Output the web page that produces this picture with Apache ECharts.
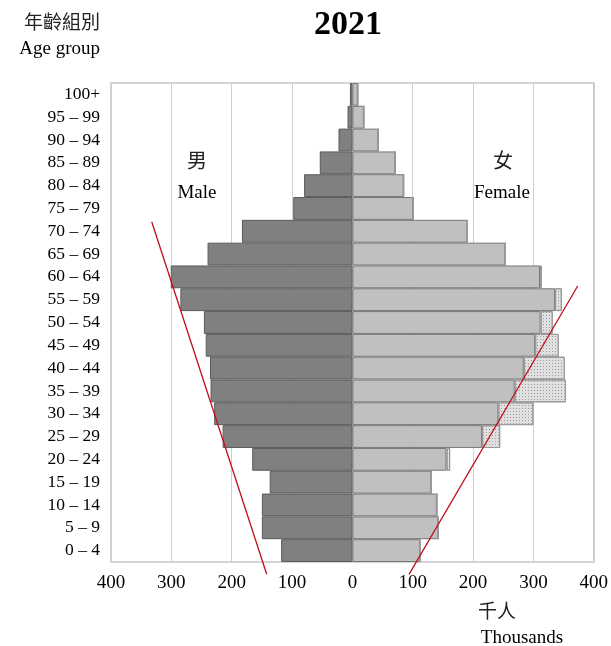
<!DOCTYPE html>
<html><head><meta charset="utf-8">
<script src="https://cdn.jsdelivr.net/npm/echarts@6/dist/echarts.min.js"></script>
<style>html,body{margin:0;padding:0;background:#fff}#c{width:611px;height:646px}</style>
</head><body><div id="c"></div>
<script>
const ageGroups = ['0 – 4','5 – 9','10 – 14','15 – 19','20 – 24','25 – 29','30 – 34','35 – 39','40 – 44','45 – 49','50 – 54','55 – 59','60 – 64','65 – 69','70 – 74','75 – 79','80 – 84','85 – 89','90 – 94','95 – 99','100+'];
const maleValues = [118,150,150,137,166,215,229,235,236,243,246,285,301,240,183,98,80,54,23,8,4];
const femaleSolid = [112,142,140,131,156,215,242,269,284,303,312,336,311,253,190,101,85,71,43,19,9];
const femaleTotal = [112,142,140,131,162,245,300,354,352,342,332,347,314,253,190,101,85,71,43,19,9];
const xTicks = [-400,-300,-200,-100,0,100,200,300,400];
// red annotation lines in [thousands, age-row index]
const leftLine = [[-332.7,14.42],[-142.6,-1.04]];
const rightLine = [[371.4,11.6],[92.6,-1.04]];

const serif = 'Liberation Serif';
const chart = echarts.init(document.getElementById('c'));
const gridRect = {left:111, top:83, width:484, height:479};
chart.setOption({
  animation:false,
  textStyle:{fontFamily:serif},
  grid:[Object.assign({show:true, borderColor:'#c8c8c8', borderWidth:1.5, containLabel:false}, gridRect),
        Object.assign({show:false}, gridRect)],
  xAxis:[{
    type:'value', gridIndex:0, min:xTicks[0], max:xTicks[xTicks.length-1], interval:100,
    axisLine:{show:false}, axisTick:{show:false},
    splitLine:{show:true, lineStyle:{color:'#cfcfcf', width:1}},
    axisLabel:{formatter:v=>Math.abs(v), color:'#000', fontSize:19, fontFamily:serif, margin:12}
  },{
    type:'value', gridIndex:1, min:-400, max:400, show:false
  }],
  yAxis:[{
    type:'category', gridIndex:0, data:ageGroups,
    axisLine:{show:false}, axisTick:{show:false}, splitLine:{show:false},
    axisLabel:{color:'#000', fontSize:17.5, fontFamily:serif, margin:11, interval:0}
  },{
    type:'value', gridIndex:1, min:-0.5, max:20.5, show:false
  }],
  series:[
    {type:'bar', name:'male', stack:'m', data:maleValues.map(v=>-v), barCategoryGap:0, barGap:'-100%',
     itemStyle:{color:'#808080', borderColor:'#5a5a5a', borderWidth:1}},
    {type:'bar', name:'female', stack:'f', data:femaleSolid, barCategoryGap:0, barGap:'-100%',
     itemStyle:{color:'#c0c0c0', borderColor:'#777', borderWidth:1}},
    {type:'bar', name:'femaleExtra', stack:'f', data:femaleTotal.map((v,i)=>v-femaleSolid[i]), barCategoryGap:0, barGap:'-100%',
     itemStyle:{color:'#e0e0e0', borderColor:'#999', borderWidth:1,
       decal:{symbol:'rect', symbolSize:1, color:'rgba(110,110,110,0.6)', dashArrayX:[1,1.5], dashArrayY:[1,1.5], rotation:0}}},
    {type:'line', xAxisIndex:1, yAxisIndex:1, data:leftLine, clip:false, symbol:'none',
     lineStyle:{color:'#c0101a', width:1.3}},
    {type:'line', xAxisIndex:1, yAxisIndex:1, data:rightLine, clip:false, symbol:'none',
     lineStyle:{color:'#c0101a', width:1.3}}
  ],
  graphic:[
    {type:'text', x:348, y:25, style:{text:'2021', font:'bold 34px "Liberation Serif"', fill:'#000', align:'center', verticalAlign:'middle'}},
    {type:'text', x:100, y:22, style:{text:'年齡組別', font:'19px "Noto Sans CJK TC"', fill:'#222', align:'right', verticalAlign:'middle'}},
    {type:'text', x:100, y:49, style:{text:'Age group', font:'19px "Liberation Serif"', fill:'#000', align:'right', verticalAlign:'middle'}},
    {type:'text', x:197, y:160, style:{text:'男', font:'20px "Noto Sans CJK TC"', fill:'#222', align:'center', verticalAlign:'middle'}},
    {type:'text', x:197, y:193, style:{text:'Male', font:'19px "Liberation Serif"', fill:'#000', align:'center', verticalAlign:'middle'}},
    {type:'text', x:503, y:160, style:{text:'女', font:'20px "Noto Sans CJK TC"', fill:'#222', align:'center', verticalAlign:'middle'}},
    {type:'text', x:502, y:193, style:{text:'Female', font:'19px "Liberation Serif"', fill:'#000', align:'center', verticalAlign:'middle'}},
    {type:'text', x:497, y:611, style:{text:'千人', font:'19px "Noto Sans CJK TC"', fill:'#222', align:'center', verticalAlign:'middle'}},
    {type:'text', x:522, y:638, style:{text:'Thousands', font:'19px "Liberation Serif"', fill:'#000', align:'center', verticalAlign:'middle'}}
  ]
});
</script></body></html>
